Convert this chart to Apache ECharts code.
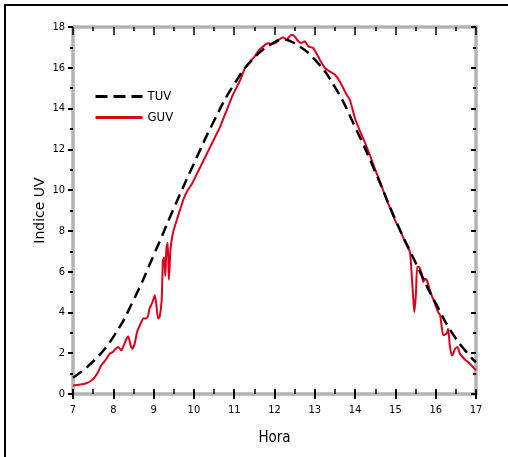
<!DOCTYPE html>
<html>
<head>
<meta charset="utf-8">
<script src="https://cdn.jsdelivr.net/npm/echarts@6/dist/echarts.min.js"></script>
<style>
html,body{margin:0;padding:0;background:#fff;}
#chart{width:508px;height:457px;}
</style>
</head>
<body>
<div id="chart"></div>
<script>
// ---- data ----
var xTicks = [7, 8, 9, 10, 11, 12, 13, 14, 15, 16, 17];
var yTicks = [0, 2, 4, 6, 8, 10, 12, 14, 16, 18];

var tuvHours  = [7.0, 7.5, 8.0, 8.5, 9.0, 9.5, 10.0, 10.5, 11.0, 11.5, 12.0, 12.2, 12.5, 13.0, 13.5, 14.0, 14.5, 15.0, 15.5, 16.0, 16.5, 17.0];
var tuvValues = [0.8, 1.6, 2.8, 4.6, 6.8, 9.1, 11.3, 13.4, 15.2, 16.5, 17.25, 17.38, 17.2, 16.4, 15.05, 13.1, 10.9, 8.55, 6.45, 4.45, 2.72, 1.55];

var guvHours = [7.0, 7.15, 7.33, 7.46, 7.54, 7.62, 7.70, 7.83, 7.91, 7.99, 8.05, 8.12, 8.2, 8.24, 8.33, 8.37, 8.43, 8.47, 8.53, 8.59,
  8.66, 8.75, 8.81, 8.86, 8.9, 8.97, 9.03, 9.07, 9.11, 9.15, 9.2, 9.23, 9.26, 9.29, 9.32, 9.35, 9.38, 9.42, 9.48, 9.57,
  9.65, 9.75, 9.85, 9.95, 10.05, 10.15, 10.25, 10.35, 10.45, 10.55, 10.65, 10.75, 10.85, 10.95, 11.05, 11.15, 11.25, 11.39, 11.51, 11.59,
  11.72, 11.84, 11.93, 12.05, 12.13, 12.21, 12.3, 12.42, 12.5, 12.59, 12.67, 12.75, 12.84, 12.96, 13.08, 13.17, 13.25, 13.37, 13.5, 13.62,
  13.79, 13.87, 14.0, 14.12, 14.25, 14.37, 14.5, 14.62, 14.75, 14.87, 14.99, 15.11, 15.28, 15.36, 15.4, 15.44, 15.47, 15.51, 15.54, 15.59,
  15.65, 15.69, 15.74, 15.78, 15.84, 15.9, 15.98, 16.06, 16.11, 16.15, 16.19, 16.27, 16.31, 16.35, 16.4, 16.44, 16.48, 16.54, 16.6, 16.73,
  16.81, 16.89, 17.0];
var guvValues = [0.42, 0.45, 0.53, 0.66, 0.83, 1.07, 1.40, 1.73, 1.98, 2.06, 2.2, 2.3, 2.14, 2.3, 2.71, 2.83, 2.38, 2.22, 2.47, 3.04,
  3.37, 3.7, 3.7, 3.81, 4.19, 4.5, 4.84, 4.35, 3.7, 3.78, 4.6, 6.5, 6.7, 5.8, 7.2, 7.4, 5.6, 7.1, 7.9, 8.5,
  9.0, 9.6, 10.0, 10.3, 10.7, 11.1, 11.5, 11.9, 12.3, 12.7, 13.1, 13.6, 14.1, 14.6, 15.0, 15.4, 15.9, 16.3, 16.56, 16.8,
  17.05, 17.2, 17.18, 17.25, 17.4, 17.5, 17.38, 17.62, 17.54, 17.3, 17.22, 17.3, 17.05, 16.97, 16.56, 16.23, 15.99, 15.82, 15.66, 15.33,
  14.68, 14.43, 13.5, 12.9, 12.3, 11.7, 11.0, 10.4, 9.7, 9.1, 8.53, 8.04, 7.3, 6.97, 5.99, 4.76, 4.02, 4.93, 6.23, 6.23,
  5.9, 5.5, 5.65, 5.58, 5.2, 4.84, 4.43, 4.02, 3.86, 3.28, 2.88, 2.96, 3.2, 2.38, 1.89, 2.0, 2.22, 2.3, 1.98, 1.68,
  1.56, 1.4, 1.16];

var seriesNames = ['TUV', 'GUV'];
var xName = 'Hora';
var yName = 'Indice UV';

// ---- build ----
function pairs(xs, ys) { return xs.map(function (x, i) { return [x, ys[i]]; }); }

var xMin = xTicks[0], xMax = xTicks[xTicks.length - 1], xInt = xTicks[1] - xTicks[0];
var yMin = yTicks[0], yMax = yTicks[yTicks.length - 1], yInt = yTicks[1] - yTicks[0];

var narrow = '"Liberation Sans Narrow", "DejaVu Sans Condensed", sans-serif';
var grey = '#b3b3b3';

function baseX(extra) {
  var o = { type: 'value', min: xMin, max: xMax, interval: xInt, splitLine: { show: false },
    axisLine: { show: false }, axisTick: { show: false }, axisLabel: { show: false }, minorTick: { show: false } };
  for (var k in extra) o[k] = extra[k];
  return o;
}
function baseY(extra) {
  var o = { type: 'value', min: yMin, max: yMax, interval: yInt, splitLine: { show: false },
    axisLine: { show: false }, axisTick: { show: false }, axisLabel: { show: false }, minorTick: { show: false } };
  for (var k in extra) o[k] = extra[k];
  return o;
}

var chart = echarts.init(document.getElementById('chart'), null, { renderer: 'canvas' });
chart.setOption({
  animation: false,
  backgroundColor: '#ffffff',
  grid: { left: 73, right: 32, top: 27, bottom: 63, containLabel: false },
  graphic: [
    { type: 'line', shape: { x1: 5, y1: 5, x2: 5, y2: 460 }, style: { stroke: '#000', lineWidth: 2 } },
    { type: 'line', shape: { x1: 4, y1: 5, x2: 510, y2: 5 }, style: { stroke: '#000', lineWidth: 2 } }
  ],
  xAxis: [
    baseX({ position: 'bottom',
      axisLine: { show: true, onZero: false, lineStyle: { color: grey, width: 3.5 } },
      axisTick: { show: true, inside: false, length: 5, lineStyle: { color: '#000', width: 2 } },
      axisLabel: { show: true, margin: 11, color: '#000', fontSize: 11, fontFamily: narrow },
      name: xName, nameLocation: 'middle', nameGap: 37, nameMoveOverlap: false,
      nameTextStyle: { color: '#000', fontSize: 15, fontFamily: narrow } }),
    baseX({ position: 'bottom',
      axisTick: { show: true, inside: true, length: 5, lineStyle: { color: '#000', width: 2 } },
      minorTick: { show: true, splitNumber: 2, length: 5, lineStyle: { color: '#000', width: 1.5 } } }),
    baseX({ position: 'top',
      axisLine: { show: true, onZero: false, lineStyle: { color: grey, width: 3.5 } },
      axisTick: { show: true, inside: true, length: 8, lineStyle: { color: '#000', width: 1.5 } },
      minorTick: { show: true, splitNumber: 2, length: 4, lineStyle: { color: '#000', width: 1.5 } } })
  ],
  yAxis: [
    baseY({ position: 'left',
      axisLine: { show: true, onZero: false, lineStyle: { color: grey, width: 3.5 } },
      axisTick: { show: true, inside: false, length: 5, lineStyle: { color: '#000', width: 2 } },
      axisLabel: { show: true, margin: 8, color: '#000', fontSize: 11, fontFamily: narrow },
      name: yName, nameLocation: 'middle', nameGap: 26, nameMoveOverlap: false,
      nameTextStyle: { color: '#000', fontSize: 14, fontFamily: '"DejaVu Sans", sans-serif' } }),
    baseY({ position: 'left',
      minorTick: { show: true, splitNumber: 2, length: 3, lineStyle: { color: '#000', width: 2 } } }),
    baseY({ position: 'right',
      axisLine: { show: true, onZero: false, lineStyle: { color: grey, width: 3.5 } },
      axisTick: { show: true, inside: true, length: 5, lineStyle: { color: '#000', width: 2 } },
      minorTick: { show: true, splitNumber: 2, length: 3, lineStyle: { color: '#000', width: 2 } } })
  ],
  legend: {
    data: [
      { name: seriesNames[0], lineStyle: { width: 3, type: [12, 6] } },
      { name: seriesNames[1], lineStyle: { width: 3 } }
    ],
    orient: 'vertical', left: 94, top: 90, padding: 0,
    itemWidth: 47, itemHeight: 14, itemGap: 8,
    itemStyle: { opacity: 0 },
    textStyle: { color: '#000', fontSize: 13, fontFamily: narrow }
  },
  series: [
    { name: seriesNames[0], type: 'line', xAxisIndex: 0, yAxisIndex: 0,
      data: pairs(tuvHours, tuvValues), smooth: true, symbol: 'none', showSymbol: false,
      lineStyle: { color: '#000', width: 2.5, type: [11, 6] }, itemStyle: { color: '#000' }, z: 3 },
    { name: seriesNames[1], type: 'line', xAxisIndex: 0, yAxisIndex: 0,
      data: pairs(guvHours, guvValues), smooth: 0.2, symbol: 'none', showSymbol: false,
      lineStyle: { color: '#e2001a', width: 2 }, itemStyle: { color: '#e2001a' }, z: 2 }
  ]
});
</script>
</body>
</html>
